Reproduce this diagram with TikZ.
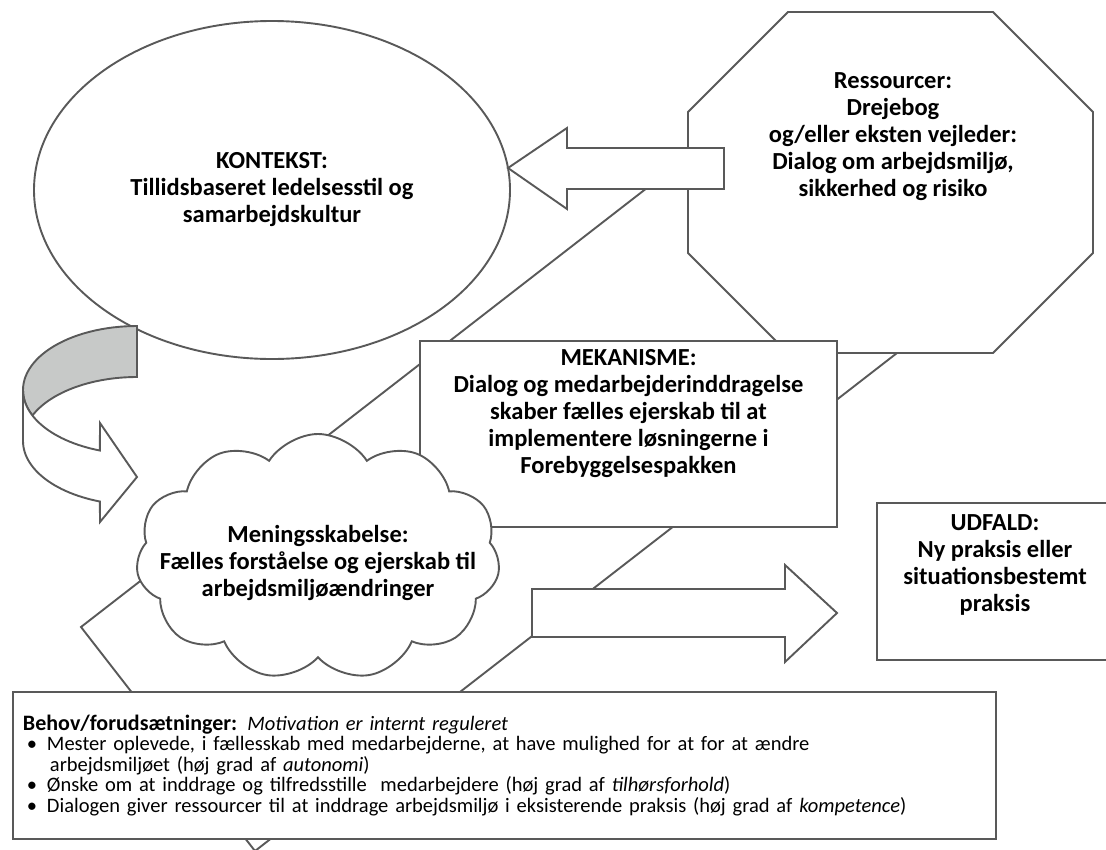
\documentclass[tikz,border=0pt]{standalone}
\usepackage{fontspec}
\setmainfont{Carlito}
\usetikzlibrary{shapes.geometric, shapes.symbols, positioning}
\definecolor{linegray}{RGB}{89,89,89}
\definecolor{ribbongray}{RGB}{199,201,200}
\newcommand{\bulletmark}{\makebox[24pt][l]{\hspace*{4pt}\textbullet}}

\begin{document}
\begin{tikzpicture}[x=1pt, y=-1pt,
  outline/.style={draw=linegray, line width=1.9pt, fill=white},
  boxstyle/.style={outline, rectangle, inner sep=0pt},
  bigtxt/.style={font=\fontsize{24.5}{27}\selectfont\bfseries, align=center, inner sep=0pt},
  smalltxt/.style={font=\fontsize{20.5}{20.5}\selectfont, align=left, inner sep=0pt}
]
  \useasboundingbox (0,0) rectangle (1106,849);

  %% Tilted frame behind everything
  \coordinate (fl) at (81,627);
  \coordinate (fb) at (255,851);
  \coordinate (ft) at (781,84);
  \coordinate (fr) at (955,308);
  \draw[draw=linegray, line width=1.9pt] (fl) -- (ft) -- (fr) -- (fb) -- cycle;

  %% Kontekst
  \node[outline, ellipse, minimum width=476pt, minimum height=338pt, bigtxt] (kontekst) at (272,190)
    {KONTEKST:\\Tillidsbaseret ledelsesstil og\\samarbejdskultur};

  %% Ressourcer (octagon)
  \draw[outline] (688,112) -- (788,12) -- (993,12) -- (1093,112) -- (1093,253)
    -- (993,353) -- (788,353) -- (688,253) -- cycle;
  \node[bigtxt] (ressourcer) at (893,137)
    {Ressourcer:\\Drejebog\\og/eller eksten vejleder:\\Dialog om arbejdsmiljø,\\sikkerhed og risiko};

  %% Block arrow: ressourcer -> kontekst
  \draw[outline] (508,168) -- (567,128) -- (567,148) -- (724,148) -- (724,189)
    -- (567,189) -- (567,209) -- cycle;

  %% Mekanisme
  \node[boxstyle, minimum width=417pt, minimum height=186pt] (mekanisme) at (628.5,434) {};
  \node[bigtxt] (mekTxt) at (628.5,414)
    {MEKANISME:\\Dialog og medarbejderinddragelse\\skaber fælles ejerskab til at\\implementere løsningerne i\\Forebyggelsespakken};

  %% Meningsskabelse (cloud)
  \node[outline, cloud, cloud puffs=11, cloud puff arc=115, minimum width=364pt,
    minimum height=246pt, inner sep=0pt] (mening) at (318,557) {};
  \node[bigtxt] (meningTxt) at (318,563)
    {Meningsskabelse:\\Fælles forståelse og ejerskab til\\arbejdsmiljøændringer};

  %% Block arrow: -> udfald
  \draw[outline] (532,589) -- (785,589) -- (785,565) -- (837,613) -- (785,662)
    -- (785,637) -- (532,637) -- cycle;

  %% Udfald
  \node[boxstyle, minimum width=236pt, minimum height=157pt] (udfald) at (995,581.5) {};
  \node[bigtxt] (udfaldTxt) at (995,565)
    {UDFALD:\\Ny praksis eller\\situationsbestemt\\praksis};

  %% Behov / forudsaetninger
  \node[boxstyle, minimum width=983pt, minimum height=147pt, smalltxt, text width=963pt] (behov) at (504.5,765.5)
    {{\fontsize{22}{20.5}\selectfont\textbf{Behov/forudsætninger:}} \textit{Motivation er internt reguleret}\\
     \bulletmark Mester oplevede, i fællesskab med medarbejderne, at have mulighed for at for at ændre\\
     \hspace*{27pt}arbejdsmiljøet (høj grad af \textit{autonomi})\\
     \bulletmark Ønske om at inddrage og tilfredsstille\ \ medarbejdere (høj grad af \textit{tilhørsforhold})\\
     \bulletmark Dialogen giver ressourcer til at inddrage arbejdsmiljø i eksisterende praksis (høj grad af \textit{kompetence})};

  %% Curved ribbon arrow (back part, grey)
  \draw[outline, fill=ribbongray]
    plot[domain=90:180, samples=30] ({137+114*cos(\x)},{390-64*sin(\x)})
    -- plot[domain=180:203.5, samples=10] ({137+114*cos(\x)},{390-64*sin(\x)})
    -- plot[domain=156.5:90, samples=30] ({137+114*cos(\x)},{441-64*sin(\x)})
    -- cycle;
  %% Curved ribbon arrow (front part)
  \draw[outline]
    plot[domain=180:251, samples=30] ({137+114*cos(\x)},{390-64*sin(\x)})
    -- (100,423) -- (137,477) -- (100,522)
    -- plot[domain=251:180, samples=30] ({137+114*cos(\x)},{441-64*sin(\x)})
    -- cycle;

\end{tikzpicture}
\end{document}
